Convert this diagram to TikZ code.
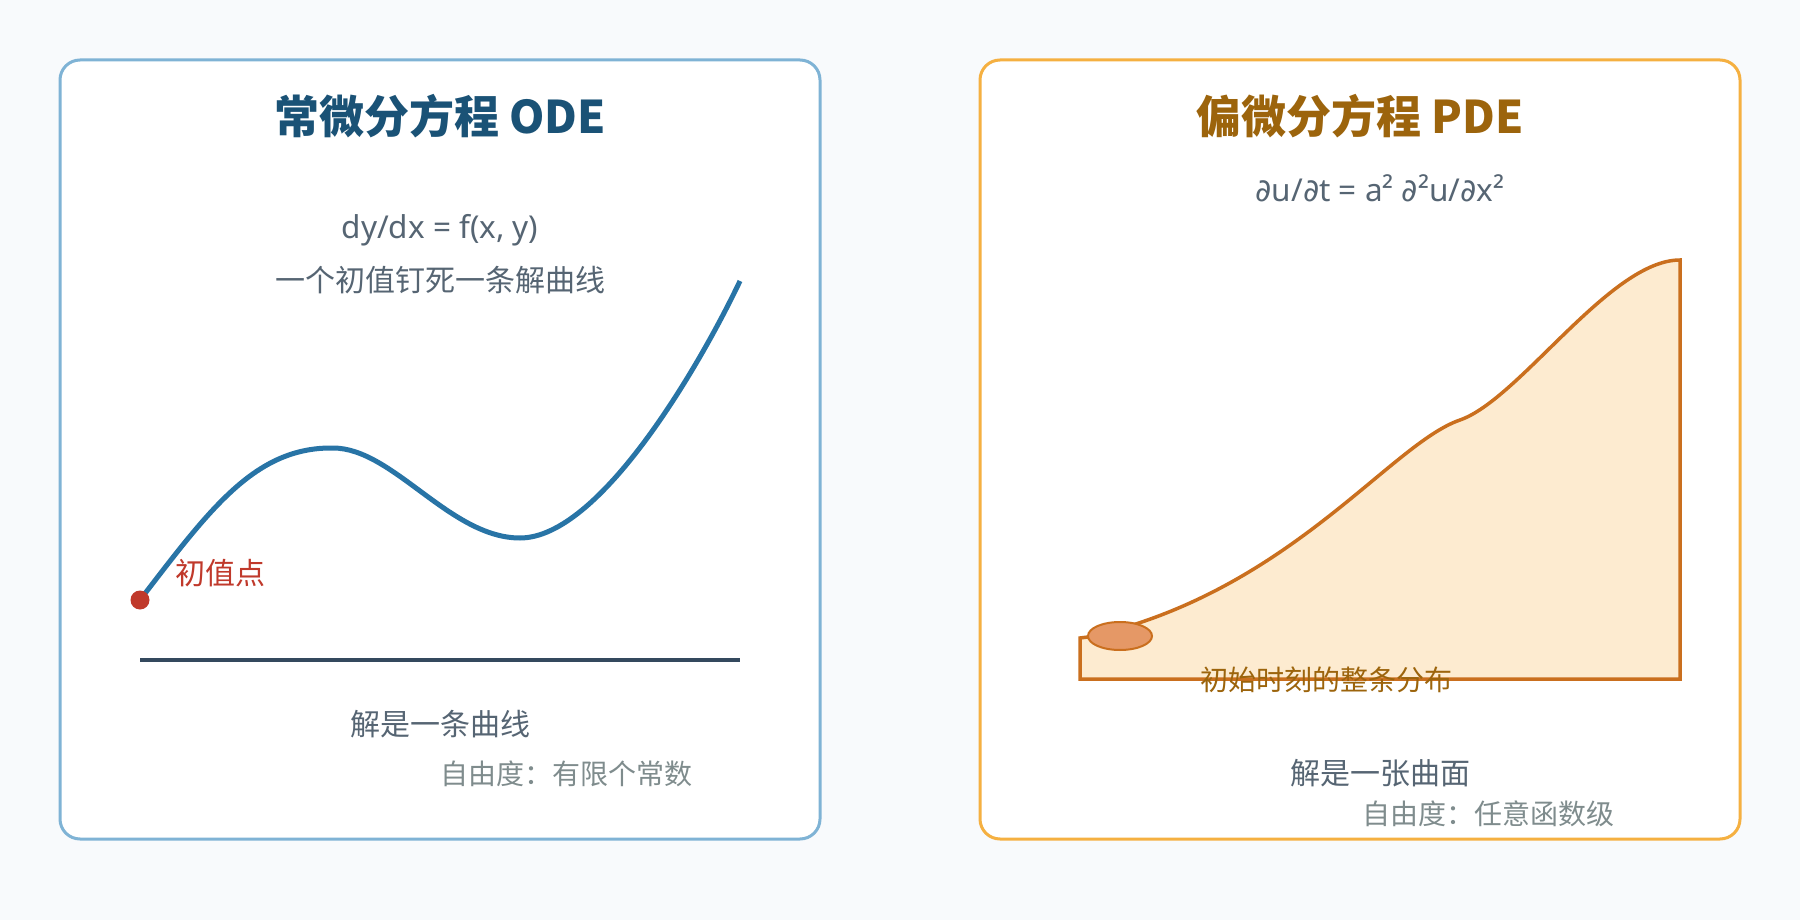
\documentclass[tikz,border=0pt]{standalone}
\usepackage{fontspec}
\setmainfont{Noto Sans CJK SC}
\newfontfamily\eqfont{Noto Sans}
\newfontfamily\partfont{DejaVu Sans}
\newcommand\pdsym{{\partfont ∂}}
\usetikzlibrary{positioning}

\definecolor{pagebg}{HTML}{F8FAFC}
\definecolor{odeframe}{HTML}{7FB3D5}
\definecolor{pdeframe}{HTML}{F5B041}
\definecolor{odeink}{HTML}{1A5276}
\definecolor{pdeink}{HTML}{9C640C}
\definecolor{bodyink}{HTML}{566573}
\definecolor{noteink}{HTML}{7F8C8D}
\definecolor{curveblue}{HTML}{2874A6}
\definecolor{initred}{HTML}{C0392B}
\definecolor{axisink}{HTML}{34495E}
\definecolor{surffill}{HTML}{FDEBD0}
\definecolor{surfedge}{HTML}{CA6F1E}
\definecolor{blobfill}{HTML}{E59866}

\tikzstyle{Panel} = [line width=3pt, rounded corners=20pt, fill=white]
\tikzstyle{Title} = [inner sep=0pt, font=\fontsize{45}{54}\selectfont\bfseries]
\tikzstyle{Body} = [inner sep=0pt, text=bodyink, font=\fontsize{30}{36}\selectfont]
\tikzstyle{Formula} = [inner sep=0pt, text=bodyink, font=\eqfont\fontsize{31.5}{38}\selectfont]
\tikzstyle{Note} = [inner sep=0pt, text=noteink, font=\fontsize{28}{34}\selectfont]
\tikzstyle{Curve} = [line width=5pt, draw=curveblue]
\tikzstyle{Dot} = [circle, fill=initred, minimum size=19pt, inner sep=0pt]
\tikzstyle{Surface} = [line width=3.5pt, draw=surfedge, fill=surffill]
\tikzstyle{Blob} = [line width=2pt, draw=surfedge, fill=blobfill]

\begin{document}
\begin{tikzpicture}[x=1pt, y=-1pt]
    \fill[pagebg] (0,0) rectangle (1800,920);
    \useasboundingbox (0,0) rectangle (1800,920);
    \draw[Panel, draw=odeframe] (60,60) rectangle (820,839);
    \draw[Panel, draw=pdeframe] (980,60) rectangle (1740,839);

    % ODE side
    \node[Title, text=odeink] (odetitle) at (440,116) {常微分方程 ODE};
    \node[Formula] (odeeq) at (440,230) {dy/dx = f(x, y)};
    \node[Body, below =20pt of odeeq] (odesub) {一个初值钉死一条解曲线};
    \coordinate (start) at (140,600);
    \coordinate (peak) at (333,448);
    \coordinate (trough) at (520,538);
    \coordinate (stop) at (740,281);
    \draw[Curve] (start) .. controls (210,509) and (255,447) .. (peak)
        .. controls (393,448) and (450,538) .. (trough)
        .. controls (600,538) and (700,365) .. (stop);
    \node[Dot] (init) at (start) {};
    \node[Body, text=initred] (initlabel) at (220,573) {初值点};
    \draw[line width=3.5pt, axisink] (140,660) -- (740,660);
    \node[Body] (odesol) at (440,724) {解是一条曲线};
    \node[Note] (odefree) at (566,774) {自由度：有限个常数};

    % PDE side
    \node[Title, text=pdeink] (pdetitle) at (1360,116) {偏微分方程 PDE};
    \node[Formula] (pdeeq) at (1380,188) {\pdsym u/\pdsym t = a² \pdsym ²u/\pdsym x²};
    \coordinate (shoulder) at (1460,420);
    \coordinate (crest) at (1680,260);
    \filldraw[Surface] (1080,679) -- (1080,638) -- (1088,637)
        .. controls (1288,593) and (1390,444) .. (shoulder)
        .. controls (1520,399) and (1610,260) .. (crest)
        -- (1680,679) -- cycle;
    \draw[Blob] (1120,636) ellipse [x radius=32pt, y radius=14pt];
    \node[Note, text=pdeink] (pdeinit) at (1326,680) {初始时刻的整条分布};
    \node[Body] (pdesol) at (1380,773) {解是一张曲面};
    \node[Note] (pdefree) at (1488,814) {自由度：任意函数级};
\end{tikzpicture}
\end{document}
